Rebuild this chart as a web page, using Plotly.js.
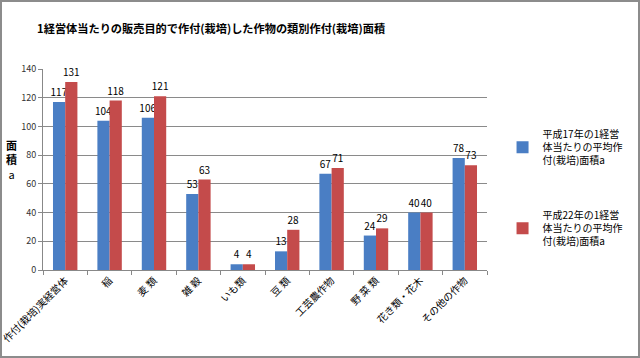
<!DOCTYPE html>
<html><head><meta charset="utf-8">
<script src="https://cdn.plot.ly/plotly-3.0.1.min.js"></script>
<style>
html,body{margin:0;padding:0;background:#fff;}
#frame{position:absolute;left:0;top:0;width:636px;height:354px;border:2px solid #8c8c8c;overflow:hidden;}
#chart{position:absolute;left:-2px;top:-2px;width:640px;height:358px;}
</style>
</head><body>
<div id="frame"><div id="chart"></div></div>
<script>
const categories = ["作付(栽培)実経営体","稲","麦 類","雑 穀","いも類","豆 類","工芸農作物","野 菜 類","花き類・花木","その他の作物"];
const h17 = [117,104,106,53,4,13,67,24,40,78];
const h22 = [131,118,121,63,4,28,71,29,40,73];
const seriesNames = ["平成17年の1経営<br>体当たりの平均作<br>付(栽培)面積a","平成22年の1経営<br>体当たりの平均作<br>付(栽培)面積a"];
const yTicks = [0,20,40,60,80,100,120,140];
const F = '"Noto Sans CJK JP", "Noto Sans", sans-serif';

const traces = [
 {type:'bar', x:categories, y:h17, name:seriesNames[0], text:h17.map(String), textposition:'outside', constraintext:'none',
  textfont:{size:10,color:'#000',family:F}, marker:{color:'#4a7ec4',line:{width:0}}, cliponaxis:false, legendgroup:'a'},
 {type:'bar', x:categories, y:h22, name:seriesNames[1], text:h22.map(String), textposition:'outside', constraintext:'none',
  textfont:{size:10,color:'#000',family:F}, marker:{color:'#c44b4b',line:{width:0}}, cliponaxis:false, legendgroup:'b'}
];
const layout = {
 width:640, height:358,
 margin:{l:43, r:128, t:69, b:88},
 paper_bgcolor:'#fff', plot_bgcolor:'#fff',
 font:{family:F, size:10, color:'#000'},
 title:{text:'<b>1経営体当たりの販売目的で作付(栽培)した作物の類別作付(栽培)面積</b>', x:0.058, xanchor:'left', y:0.92, yanchor:'middle',
   font:{size:11.2, family:F, color:'#000'}},
 barmode:'group', bargap:0.45, bargroupgap:0,
 showlegend:true,
 legend:{x:1.035, xanchor:'left', y:0.74, yanchor:'top', font:{size:10,family:F}, tracegroupgap:39, itemwidth:30, traceorder:'grouped'},
 xaxis:{type:'category', tickangle:-45, tickfont:{size:10,family:F}, showline:true, linecolor:'#888', linewidth:1,
   ticks:'outside', tickson:'boundaries', ticklen:4, tickcolor:'#888', showgrid:false},
 yaxis:{range:[0,140], tickvals:yTicks, ticktext:yTicks.map(String), tickfont:{size:9,color:'#333',family:F},
   showline:true, linecolor:'#888', linewidth:1, ticks:'outside', ticklen:4, tickcolor:'#888',
   showgrid:true, gridcolor:'#8a8a8a', gridwidth:1, zeroline:false},
 annotations:[{text:'<b>面</b><br><b>積</b><br>a', xref:'paper', yref:'paper', x:-0.072, y:0.55, xanchor:'center', yanchor:'middle',
   showarrow:false, font:{size:11,family:F}, align:'center'}]
};
Plotly.newPlot('chart', traces, layout, {displayModeBar:false, staticPlot:true});
</script>
</body></html>
